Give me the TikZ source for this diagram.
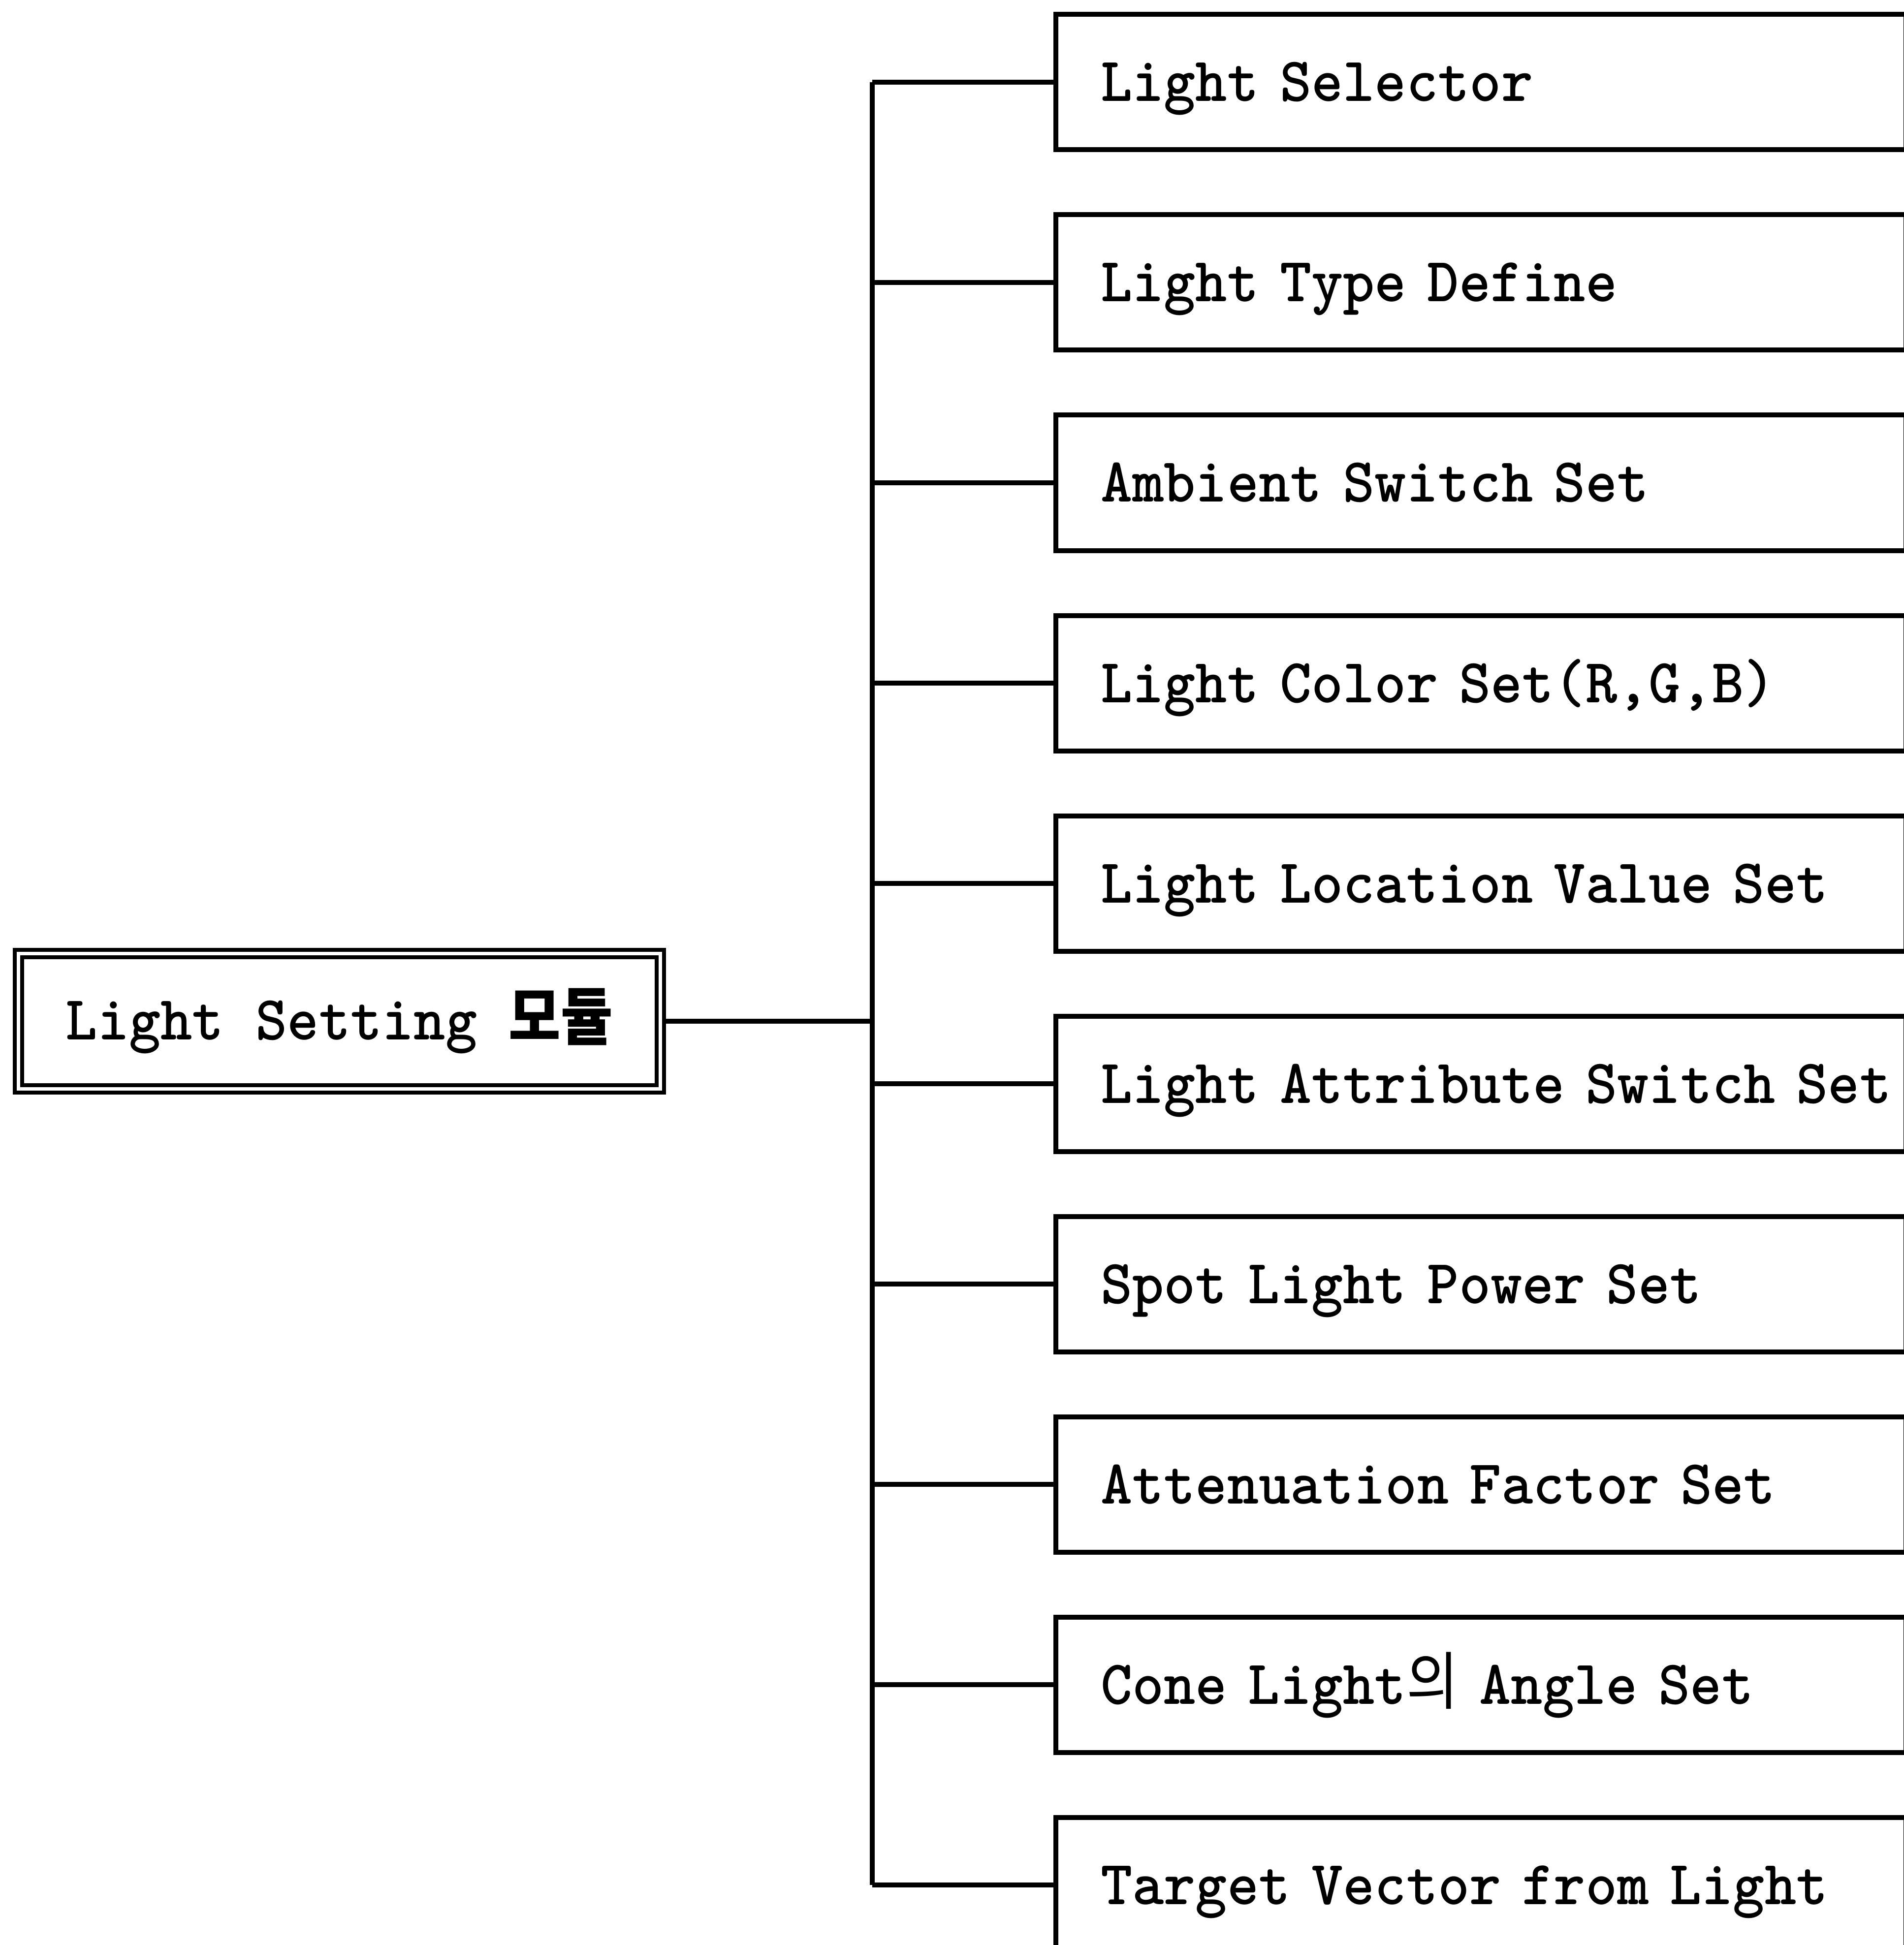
\documentclass[tikz,border=0pt]{standalone}
\usepackage{fontspec}
\usetikzlibrary{positioning}
\newfontfamily\boxfont[FakeStretch=0.96]{lmmonolt10-bold.otf}
\newfontfamily\cjk[FakeStretch=0.9]{Noto Sans CJK KR}
\tikzset{
  boxtext/.style={font=\boxfont\fontsize{18.15pt}{19pt}\selectfont},
  modbox/.style={boxtext, draw, double, double distance=0.35mm, line width=0.4mm,
    minimum width=65.2mm, minimum height=13.725mm, inner sep=0pt},
  funcbox/.style={boxtext, draw, line width=0.5mm, anchor=west, align=left,
    text width=77.25mm, inner xsep=4.55mm, inner ysep=0pt, minimum height=13.75mm,
    text height=3.9mm, text depth=0mm},
  link/.style={line width=0.5mm},
}
\begin{document}
\begin{tikzpicture}[x=1mm, y=-1mm]
  \useasboundingbox (0,0) rectangle (193.35,197.6);

  % Module box
  \node[modbox] (mod) at (34.475,103.74) {Light Setting {\cjk\bfseries 모듈}};
  \coordinate (trunk) at (88.6,0);

  % Function boxes
  \foreach \i/\name in {1/Light Selector, 2/Light Type Define, 3/Ambient Switch Set,
      4/{Light Color Set(R,G,B)}, 5/Light Location Value Set, 6/Light Attribute Switch Set,
      7/Spot Light Power Set, 8/Attenuation Factor Set, 9/{Cone Light{\cjk 의} Angle Set},
      10/Target Vector from Light} {
    \node[funcbox] (f\i) at (107, {8.35+20.35*(\i-1)}) {\mbox{\name}};
    \draw[link] (f\i.west) -- (f\i.west -| trunk);
  }

  % Tree lines
  \draw[link] (f1.west -| trunk) -- (f10.west -| trunk);
  \draw[link] (mod.east) -- (mod.east -| trunk);
\end{tikzpicture}
\end{document}
